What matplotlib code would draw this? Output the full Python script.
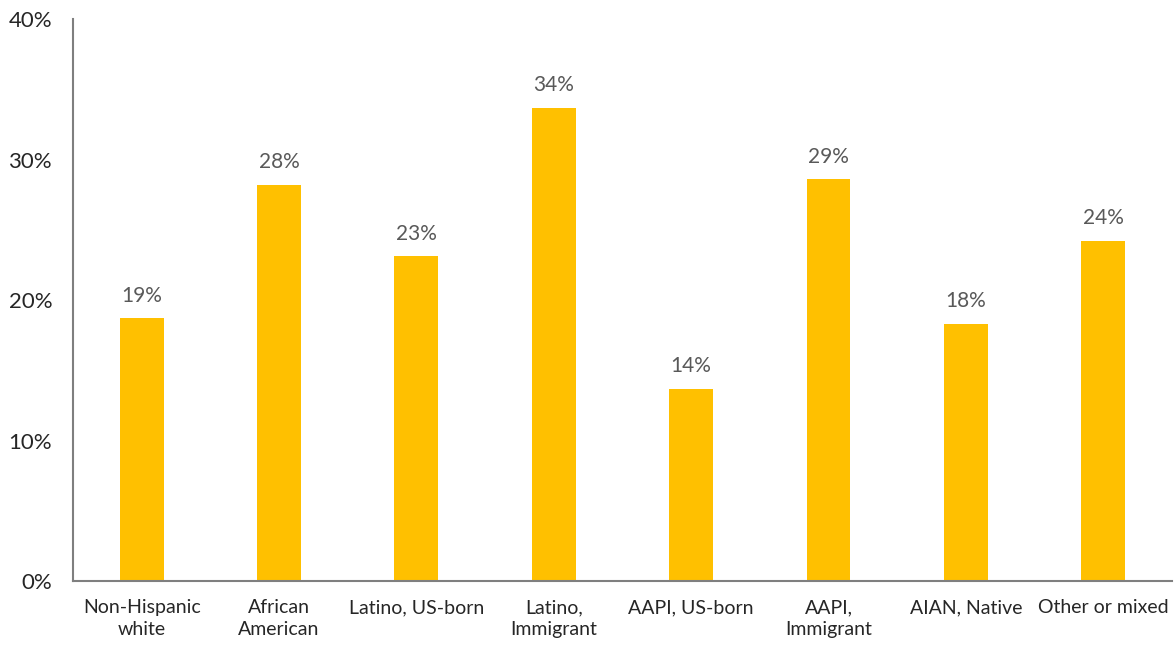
import matplotlib.pyplot as plt

# share of each group (%)
groups = ["Non-Hispanic\nwhite", "African\nAmerican", "Latino, US-born", "Latino,\nImmigrant",
          "AAPI, US-born", "AAPI,\nImmigrant", "AIAN, Native", "Other or mixed"]
shares = [18.7, 28.2, 23.1, 33.7, 13.7, 28.6, 18.3, 24.2]
y_ticks = [0, 10, 20, 30, 40]

plt.rcParams['font.family'] = ['Lato', 'DejaVu Sans']

fig = plt.figure(figsize=(11.75, 6.45), dpi=100)
ax = fig.add_axes([0.0621, 0.0992, 0.9353, 0.8713])

x = range(len(groups))
bars = ax.bar(x, shares, width=0.32, color="#FFC000")

for b, v in zip(bars, shares):
    ax.text(b.get_x() + b.get_width() / 2, v + 0.9, f"{v:.0f}%",
            ha="center", va="bottom", fontsize=15, color="#595959")

ax.set_xlim(-0.5, len(groups) - 0.5)
ax.set_ylim(0, 40)
ax.set_yticks(y_ticks)
ax.set_yticklabels([f"{t}%" for t in y_ticks], fontsize=16, color="#262626")
ax.set_xticks(list(x))
ax.set_xticklabels(groups, fontsize=14, color="#262626", linespacing=1.35)
ax.tick_params(length=0)
ax.tick_params(axis="y", pad=15)
ax.tick_params(axis="x", pad=13)

for s in ["top", "right"]:
    ax.spines[s].set_visible(False)
for s in ["left", "bottom"]:
    ax.spines[s].set_color("#7f7f7f")
    ax.spines[s].set_linewidth(1.5)

fig.savefig("out.png", dpi=100)
